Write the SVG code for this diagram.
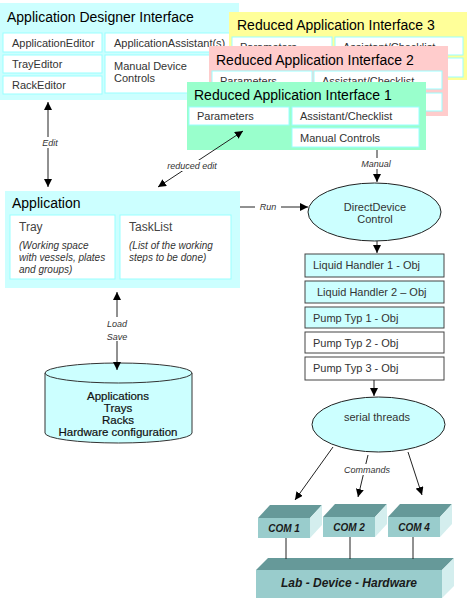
<svg xmlns="http://www.w3.org/2000/svg" width="471" height="602" viewBox="0 0 471 602">
<style>
text{font-family:"Liberation Sans",Arial,sans-serif;}
.title{font-size:14px;fill:#000;}
.item{font-size:11px;fill:#333;}
.ibox{fill:#fff;stroke:#99ffff;stroke-width:1;}
.lbl{font-size:9px;font-style:italic;fill:#333;text-anchor:middle;}
.desc{font-size:10px;font-style:italic;fill:#333;}
.obj{stroke:#444;stroke-width:1;}
.conn{stroke:#222;stroke-width:1;fill:none;}
.front{fill:#99cccc;}
.top{fill:#669999;}
.side{fill:#d4eeee;}
.com{font-size:10px;font-weight:bold;font-style:italic;fill:#1a1a1a;text-anchor:middle;}
</style>
<defs>
<marker id="ah" viewBox="0 0 10 10" refX="10" refY="5" markerWidth="8" markerHeight="8" markerUnits="userSpaceOnUse" orient="auto-start-reverse">
<path d="M0,0 L10,5 L0,10 z" fill="#000"/>
</marker>
</defs>
<rect width="471" height="602" fill="#fff"/>

<g id="designer-interface">
<rect x="0" y="3" width="239" height="97" fill="#ccffff"/>
<text class="title" x="7" y="22">Application Designer Interface</text>
<rect class="ibox" x="3" y="33" width="99" height="19"/>
<text class="item" x="12" y="47">ApplicationEditor</text>
<rect class="ibox" x="3" y="55" width="99" height="18"/>
<text class="item" x="12" y="68">TrayEditor</text>
<rect class="ibox" x="3" y="76" width="99" height="18"/>
<text class="item" x="12" y="89">RackEditor</text>
<rect class="ibox" x="105" y="33" width="128" height="19"/>
<text class="item" x="114" y="47">ApplicationAssistant(s)</text>
<rect class="ibox" x="105" y="55" width="128" height="38"/>
<text class="item" x="114" y="70">Manual Device</text>
<text class="item" x="114" y="82">Controls</text>
</g>

<g id="reduced-interface-3">
<rect x="229" y="12" width="238" height="68" fill="#ffff99"/>
<text class="title" x="237" y="30">Reduced Application Interface 3</text>
<rect class="ibox" x="232" y="37" width="100" height="18"/>
<text class="item" x="240" y="51">Parameters</text>
<rect class="ibox" x="335" y="37" width="128" height="18"/>
<text class="item" x="343" y="51">Assistant/Checklist</text>
<rect class="ibox" x="335" y="58" width="128" height="19"/>
</g>

<g id="reduced-interface-2">
<rect x="209" y="46" width="239" height="70" fill="#ffcccc"/>
<text class="title" x="216" y="65">Reduced Application Interface 2</text>
<rect class="ibox" x="212" y="71" width="100" height="18"/>
<text class="item" x="220" y="85">Parameters</text>
<rect class="ibox" x="314" y="71" width="128" height="18"/>
<text class="item" x="322" y="85">Assistant/Checklist</text>
<rect class="ibox" x="314" y="93" width="128" height="18"/>
</g>

<g id="reduced-interface-1">
<rect x="187" y="82" width="239" height="68" fill="#99ffcc"/>
<text class="title" x="194" y="100">Reduced Application Interface 1</text>
<rect class="ibox" x="189" y="107" width="100" height="18"/>
<text class="item" x="197" y="120">Parameters</text>
<rect class="ibox" x="292" y="107" width="127" height="18"/>
<text class="item" x="300" y="120">Assistant/Checklist</text>
<rect class="ibox" x="292" y="128" width="127" height="19"/>
<text class="item" x="300" y="142">Manual Controls</text>
</g>

<g id="application">
<rect x="5" y="191" width="235" height="97" fill="#ccffff"/>
<text class="title" x="12" y="208">Application</text>
<rect class="ibox" x="10" y="215" width="105" height="64"/>
<text x="19" y="231" font-size="12" fill="#444">Tray</text>
<text class="desc" x="19" y="249">(Working space</text>
<text class="desc" x="19" y="261">with vessels, plates</text>
<text class="desc" x="19" y="273">and groups)</text>
<rect class="ibox" x="120" y="215" width="111" height="64"/>
<text x="129" y="231" font-size="12" fill="#444">TaskList</text>
<text class="desc" x="129" y="249">(List of the working</text>
<text class="desc" x="129" y="261">steps to be done)</text>
</g>

<g id="storage">
<path d="M45,373 L45,433 A73.5,10 0 0 0 192,433 L192,373" fill="#ccffff" stroke="#333"/>
<ellipse cx="118.5" cy="373" rx="73.5" ry="10" fill="#ccffff" stroke="#333"/>
<g font-size="11.5" fill="#111" text-anchor="middle" stroke="#111" stroke-width="0.2">
<text x="118" y="400">Applications</text>
<text x="118" y="412">Trays</text>
<text x="118" y="424">Racks</text>
<text x="118" y="436">Hardware configuration</text>
</g>
</g>

<g id="direct-device-control">
<ellipse cx="374.5" cy="212" rx="66.5" ry="29" fill="#ccffff" stroke="#222"/>
<text x="375" y="211" font-size="11" fill="#333" text-anchor="middle">DirectDevice</text>
<text x="375" y="223" font-size="11" fill="#333" text-anchor="middle">Control</text>
</g>

<g id="device-objects">
<rect class="obj" x="305" y="254" width="139" height="23" fill="#ccffff"/>
<text class="item" x="313" y="269">Liquid Handler 1 - Obj</text>
<rect class="obj" x="305" y="281" width="139" height="22" fill="#ccffff"/>
<text class="item" x="317" y="296">Liquid Handler 2 – Obj</text>
<rect class="obj" x="305" y="307" width="139" height="21" fill="#ccffff"/>
<text class="item" x="313" y="322">Pump Typ 1 - Obj</text>
<rect class="obj" x="305" y="332" width="139" height="21" fill="#fff"/>
<text class="item" x="313" y="347">Pump Typ 2 - Obj</text>
<rect class="obj" x="305" y="357" width="139" height="23" fill="#fff"/>
<text class="item" x="313" y="372">Pump Typ 3 - Obj</text>
</g>

<g id="serial-threads">
<ellipse cx="378.5" cy="424.5" rx="66.5" ry="27.5" fill="#ccffff" stroke="#222"/>
<text x="377" y="421" font-size="11" fill="#333" text-anchor="middle">serial threads</text>
</g>

<g id="com1">
<polygon class="top" points="258,518 270,505 322,505 310,518"/>
<polygon class="side" points="310,518 322,505 322,525 310,538"/>
<rect class="front" x="258" y="518" width="52" height="20"/>
<text class="com" x="284" y="532">COM 1</text>
</g>
<g id="com2">
<polygon class="top" points="323,517 335,504 387,504 375,517"/>
<polygon class="side" points="375,517 387,504 387,524 375,537"/>
<rect class="front" x="323" y="517" width="52" height="20"/>
<text class="com" x="349" y="531">COM 2</text>
</g>
<g id="com4">
<polygon class="top" points="388,517 400,504 452,504 440,517"/>
<polygon class="side" points="440,517 452,504 452,524 440,537"/>
<rect class="front" x="388" y="517" width="52" height="20"/>
<text class="com" x="414" y="531">COM 4</text>
</g>
<g id="lab-hardware">
<polygon class="top" points="256,570 268,558 454,558 442,570"/>
<polygon class="side" points="442,570 454,558 454,586 442,598"/>
<rect class="front" x="256" y="570" width="186" height="28"/>
<text x="349" y="587" font-size="12" font-weight="bold" font-style="italic" fill="#1a1a1a" text-anchor="middle">Lab - Device - Hardware</text>
</g>

<g id="connectors">
<line class="conn" x1="48" y1="102" x2="48" y2="187" marker-start="url(#ah)" marker-end="url(#ah)"/>
<rect x="40" y="137" width="22" height="11" fill="#fff"/>
<text class="lbl" x="50" y="146">Edit</text>
<line class="conn" x1="158" y1="187" x2="243" y2="131" marker-start="url(#ah)" marker-end="url(#ah)"/>
<rect x="166" y="160" width="52" height="11" fill="#fff"/>
<text class="lbl" x="192" y="169">reduced edit</text>
<line class="conn" x1="377" y1="150" x2="377" y2="182" marker-end="url(#ah)"/>
<rect x="359" y="158" width="34" height="11" fill="#fff"/>
<text class="lbl" x="376" y="167">Manual</text>
<line class="conn" x1="240" y1="207" x2="308" y2="207" marker-end="url(#ah)"/>
<rect x="255" y="201" width="26" height="11" fill="#fff"/>
<text class="lbl" x="268" y="210">Run</text>
<line class="conn" x1="377" y1="241" x2="377" y2="253" marker-end="url(#ah)"/>
<line class="conn" x1="374" y1="380" x2="374" y2="396" marker-end="url(#ah)"/>
<line class="conn" x1="117" y1="292" x2="117" y2="370" marker-start="url(#ah)" marker-end="url(#ah)"/>
<rect x="104" y="317" width="26" height="24" fill="#fff"/>
<text class="lbl" x="117" y="327">Load</text>
<text class="lbl" x="117" y="340">Save</text>
<line class="conn" x1="333" y1="447" x2="295" y2="500" marker-end="url(#ah)"/>
<line class="conn" x1="368" y1="455" x2="358" y2="497" marker-end="url(#ah)"/>
<rect x="345" y="464" width="44" height="11" fill="#fff"/>
<text class="lbl" x="367" y="473">Commands</text>
<line class="conn" x1="408" y1="452" x2="422" y2="495" marker-end="url(#ah)"/>
<line class="conn" x1="286" y1="538" x2="286" y2="559"/>
<line class="conn" x1="350" y1="537" x2="350" y2="559"/>
<line class="conn" x1="413" y1="537" x2="413" y2="559"/>
</g>
</svg>
